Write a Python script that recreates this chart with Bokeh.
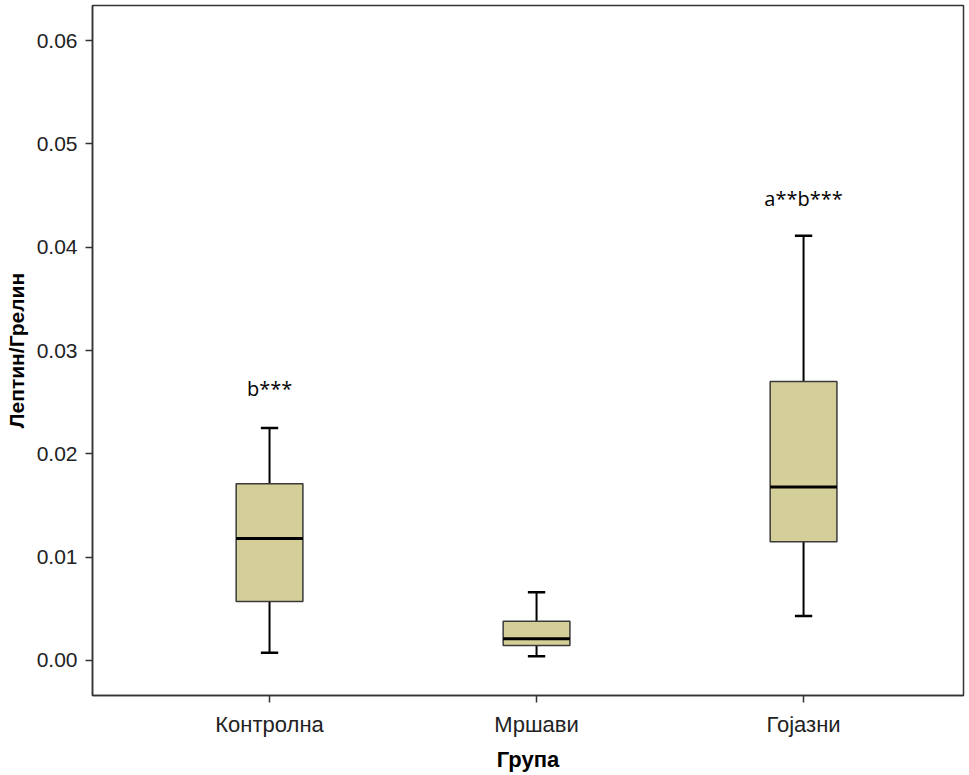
from bokeh.plotting import figure
from bokeh.models import ColumnDataSource, FixedTicker, Range1d, Label
from bokeh.embed import file_html
from bokeh.resources import INLINE

# ---- data ----
categories = ["Контролна", "Мршави", "Гојазни"]
positions = [1, 2, 3]
lower_whisker = [0.00075, 0.0004, 0.0043]
q1 = [0.0057, 0.00145, 0.0115]
median = [0.0118, 0.0021, 0.0168]
q3 = [0.0171, 0.0038, 0.0270]
upper_whisker = [0.0225, 0.0066, 0.0411]
annot_text = ["b***", "", "a**b***"]
annot_y = [0.0263, None, 0.0447]
y_ticks = [0.0, 0.01, 0.02, 0.03, 0.04, 0.05, 0.06]

box_w = 0.25
cap_w = 0.065

src = ColumnDataSource(dict(
    x=positions,
    left=[p - box_w / 2 for p in positions],
    right=[p + box_w / 2 for p in positions],
    cl=[p - cap_w / 2 for p in positions],
    cr=[p + cap_w / 2 for p in positions],
    lo=lower_whisker, q1=q1, med=median, q3=q3, hi=upper_whisker,
))

p = figure(width=969, height=775, output_backend="svg", toolbar_location=None,
           x_range=Range1d(0.337, 3.599), y_range=Range1d(-0.00339, 0.06339),
           min_border_left=92, min_border_right=6, min_border_top=5, min_border_bottom=80)

p.background_fill_color = "white"
p.border_fill_color = "white"
p.grid.visible = False
p.outline_line_color = "#333333"
p.outline_line_width = 1.5

# whiskers
p.segment(x0="x", y0="q3", x1="x", y1="hi", source=src, line_color="black", line_width=2)
p.segment(x0="x", y0="lo", x1="x", y1="q1", source=src, line_color="black", line_width=2)
p.segment(x0="cl", y0="hi", x1="cr", y1="hi", source=src, line_color="black", line_width=2.5)
p.segment(x0="cl", y0="lo", x1="cr", y1="lo", source=src, line_color="black", line_width=2.5)
# boxes
p.quad(left="left", right="right", bottom="q1", top="q3", source=src,
       fill_color="#D4CF99", line_color="#3a3a3a", line_width=1.5)
# median
p.segment(x0="left", y0="med", x1="right", y1="med", source=src, line_color="black", line_width=3)

for xp, t, yv in zip(positions, annot_text, annot_y):
    if t:
        p.add_layout(Label(x=xp, y=yv, text=t, text_align="center", text_baseline="middle",
                           text_font="Open Sans", text_font_size="20px", text_color="black"))

# axes
p.xaxis.ticker = FixedTicker(ticks=positions)
p.xaxis.major_label_overrides = {pos: c for pos, c in zip(positions, categories)}
p.yaxis.ticker = FixedTicker(ticks=y_ticks)
p.yaxis.major_label_overrides = {t: f"{t:.2f}" for t in y_ticks}

for ax in (p.xaxis[0], p.yaxis[0]):
    ax.axis_line_color = "#333333"
    ax.axis_line_width = 1.5
    ax.major_tick_line_color = "#333333"
    ax.major_tick_line_width = 1.5
    ax.major_tick_out = 7
    ax.major_tick_in = 0
    ax.minor_tick_line_color = None
    ax.major_label_text_font = "Liberation Sans"
    ax.major_label_text_color = "#222222"
    ax.axis_label_text_font = "Liberation Sans"
    ax.axis_label_text_font_style = "bold"
    ax.axis_label_text_color = "black"

p.xaxis.major_label_text_font_size = "22px"
p.yaxis.major_label_text_font_size = "21px"
p.xaxis.axis_label_text_font_size = "22px"
p.yaxis.axis_label_text_font_size = "21px"

p.xaxis.axis_label = "Група"
p.yaxis.axis_label = "Лептин/Грелин"
p.xaxis.major_label_standoff = 9
p.xaxis.axis_label_standoff = 7
p.yaxis.major_label_standoff = 8
p.yaxis.axis_label_standoff = 6

open("out.html", "w").write(file_html(p, INLINE))
